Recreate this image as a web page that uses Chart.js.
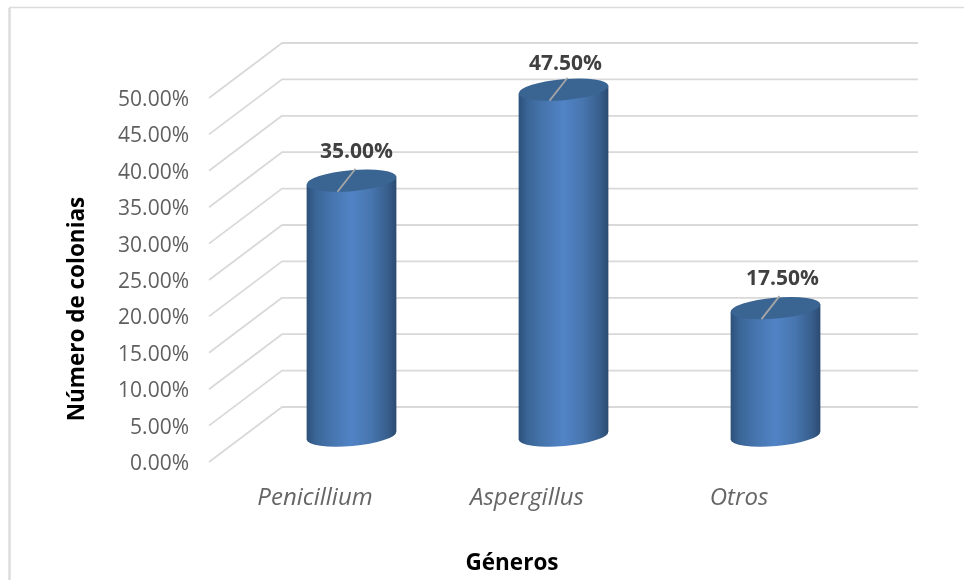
<!DOCTYPE html>
<html lang="es">
<head>
    <meta charset="UTF-8">
    <title>Número de colonias por género</title>
    <script src="https://cdn.jsdelivr.net/npm/chart.js"></script>
    <style>
        html, body { margin: 0; background: #fff; }
        #wrap { width: 964px; height: 580px; position: relative; }
    </style>
</head>
<body>
    <div id="wrap"><canvas id="generosChart" width="964" height="580"></canvas></div>
    <script>
        const categories = ['Penicillium', 'Aspergillus', 'Otros'];
        const percentages = [35.0, 47.5, 17.5];
        const yMax = 50;
        const yStep = 5;

        const FONT = '"Open Sans", sans-serif';
        const GRID = '#d9d9d9';
        const fmt = v => v.toFixed(2) + '%';

        // caja 3D: profundidad del suelo y de las paredes
        const DEPTH_X = 73;
        const DEPTH_Y = 55;
        // las marcas van 2px por encima de sus etiquetas de eje
        const LIFT = 2;

        const framePlugin = {
            id: 'frame',
            beforeDraw(chart) {
                const c = chart.ctx;
                c.save();
                c.fillStyle = '#fff';
                c.fillRect(0, 0, chart.width, chart.height);
                c.strokeStyle = '#dcdcdc';
                c.lineWidth = 2.5;
                c.beginPath();
                c.moveTo(9.5, 580);
                c.lineTo(9.5, 8);
                c.stroke();
                c.lineWidth = 1.4;
                c.beginPath();
                c.moveTo(9, 7.5);
                c.lineTo(964, 7.5);
                c.stroke();
                c.restore();
            }
        };

        const wallsPlugin = {
            id: 'walls',
            beforeDatasetsDraw(chart) {
                const c = chart.ctx;
                const { left, right } = chart.chartArea;
                const y = chart.scales.y;
                c.save();
                c.strokeStyle = GRID;
                c.lineWidth = 1.8;
                c.lineJoin = 'round';
                y.ticks.forEach((t, i) => {
                    const py = y.getPixelForTick(i) - LIFT;
                    c.beginPath();
                    c.moveTo(left, py);
                    c.lineTo(left + DEPTH_X, py - DEPTH_Y);
                    c.lineTo(right + DEPTH_X, py - DEPTH_Y);
                    c.stroke();
                });
                c.restore();
            }
        };

        // las barras se dibujan como cilindros sobre los elementos del dataset
        const cylinderPlugin = {
            id: 'cylinder',
            afterDatasetsDraw(chart) {
                const c = chart.ctx;
                const meta = chart.getDatasetMeta(0);
                const tilt = -5 * Math.PI / 180;
                const labelNudge = [[1, 0], [-2, 3], [3, 0]];
                meta.data.forEach((bar, i) => {
                    const { x, y, base, width } = bar.getProps(['x', 'y', 'base', 'width'], true);
                    const cx = x + DEPTH_X / 2;
                    const top = y - DEPTH_Y / 2 + 1 - LIFT;
                    const bottom = base - DEPTH_Y / 2 + 1 - LIFT;
                    const a = width / 2;
                    const b = 10.5;
                    const ex = a * Math.cos(tilt);
                    const ey = a * Math.sin(tilt);

                    const g = c.createLinearGradient(cx - a, 0, cx + a, 0);
                    g.addColorStop(0, '#2d5079');
                    g.addColorStop(0.1, '#3a6596');
                    g.addColorStop(0.28, '#4675ae');
                    g.addColorStop(0.5, '#5184c6');
                    g.addColorStop(0.72, '#4775ae');
                    g.addColorStop(0.9, '#385f8d');
                    g.addColorStop(1, '#2b4a70');

                    c.save();
                    c.beginPath();
                    c.moveTo(cx - ex, top - ey);
                    c.lineTo(cx - ex, bottom - ey);
                    c.ellipse(cx, bottom, a, b, tilt, Math.PI, 0, true);
                    c.lineTo(cx + ex, top + ey);
                    c.closePath();
                    c.fillStyle = g;
                    c.fill();

                    c.beginPath();
                    c.ellipse(cx, top, a, b, tilt, 0, Math.PI * 2);
                    c.fillStyle = '#3a6492';
                    c.fill();

                    // línea guía hacia la etiqueta
                    c.strokeStyle = '#a6a6a6';
                    c.lineWidth = 1.8;
                    c.beginPath();
                    c.moveTo(cx - 14, top + 11);
                    c.lineTo(cx + 4, top - 12);
                    c.stroke();

                    c.font = 'bold 21px ' + FONT;
                    c.fillStyle = '#404040';
                    c.textAlign = 'center';
                    c.textBaseline = 'middle';
                    c.fillText(fmt(percentages[i]), cx + 4 + labelNudge[i][0], top - 29 + labelNudge[i][1]);
                    c.restore();
                });
            }
        };

        // títulos de los ejes, desplazados respecto al centro del área
        const axisTitlesPlugin = {
            id: 'axisTitles',
            afterDraw(chart) {
                const c = chart.ctx;
                c.save();
                c.font = 'bold 22.5px ' + FONT;
                c.fillStyle = '#000';
                c.textAlign = 'center';
                c.textBaseline = 'middle';
                c.fillText('Géneros', 512, 564);
                c.translate(78, 309);
                c.rotate(-Math.PI / 2);
                c.fillText('Número de colonias', 0, 0);
                c.restore();
            }
        };

        new Chart(document.getElementById('generosChart').getContext('2d'), {
            type: 'bar',
            data: {
                labels: categories,
                datasets: [{
                    data: percentages,
                    backgroundColor: 'transparent',
                    borderWidth: 0,
                    categoryPercentage: 1,
                    barPercentage: 0.425
                }]
            },
            options: {
                responsive: false,
                animation: false,
                layout: { padding: { top: 100, right: 119, bottom: 0, left: 0 } },
                plugins: { legend: { display: false }, tooltip: { enabled: false } },
                scales: {
                    x: {
                        afterFit: s => { s.height = 116; },
                        grid: { display: false, drawTicks: false },
                        border: { display: false },
                        ticks: {
                            color: '#666666',
                            padding: 20,
                            font: { family: FONT, size: 24, style: 'italic' }
                        }
                    },
                    y: {
                        min: 0,
                        max: yMax,
                        afterFit: s => { s.width = 209; },
                        grid: { display: false, drawTicks: false },
                        border: { display: false },
                        ticks: {
                            stepSize: yStep,
                            color: '#5f5f5f',
                            padding: 20,
                            font: { family: FONT, size: 21 },
                            callback: v => fmt(v)
                        }
                    }
                }
            },
            plugins: [framePlugin, wallsPlugin, cylinderPlugin, axisTitlesPlugin]
        });
    </script>
</body>
</html>
